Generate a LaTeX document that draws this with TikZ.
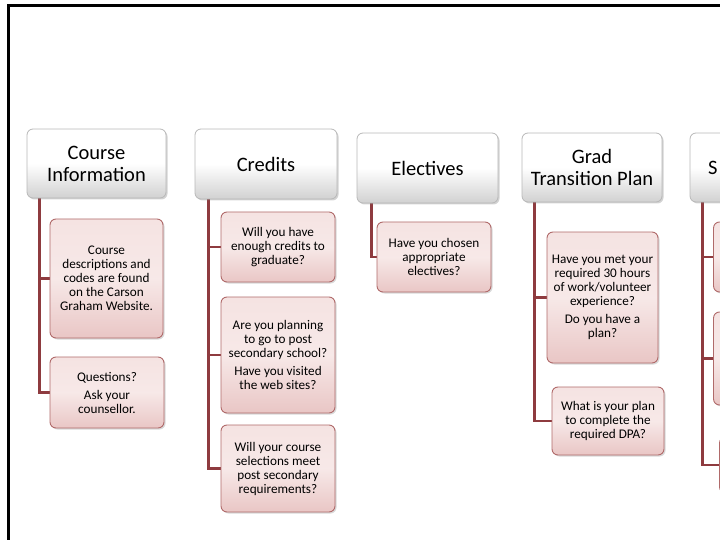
\documentclass[tikz,border=0pt]{standalone}
\usepackage{fontspec}
\setmainfont{Carlito}
\usetikzlibrary{shadows,calc,backgrounds}
\definecolor{connc}{HTML}{8E3B3F}
\definecolor{kidtop}{HTML}{F5E3E2}
\definecolor{kidbot}{HTML}{E9C6C5}
\definecolor{kiddraw}{HTML}{B06A6A}
\begin{document}
\begin{tikzpicture}[x=1pt,y=-1pt,
  hdr/.style={rounded corners=6pt, draw=black!28, line width=0.8pt,
    top color=white, bottom color=black!18, middle color=white,
    drop shadow={shadow xshift=1.5pt, shadow yshift=-1.5pt, opacity=0.35},
    align=center, inner sep=0pt, font=\fontsize{20.5}{22}\selectfont},
  kid/.style={rounded corners=6pt, draw=kiddraw, line width=0.9pt,
    top color=kidtop, bottom color=kidbot, middle color=kidtop!80!white,
    drop shadow={shadow xshift=1.5pt, shadow yshift=-1.5pt, opacity=0.3},
    align=center, inner sep=0pt, font=\fontsize{13.2}{14}\selectfont},
  cn/.style={draw=connc, line width=2.8pt}]
\useasboundingbox (0,0) rectangle (720,540);
\clip (0,0) rectangle (720,540);
\draw[line width=2.5pt, line join=miter] (8.5,540) -- (8.5,5.5) -- (720,5.5);

% headers
\node[hdr, minimum width=139pt, minimum height=69pt] (h1) at (96.5,163.5) {Course\\Information};
\node[hdr, minimum width=142pt, minimum height=70pt] (h2) at (266,164) {Credits};
\node[hdr, minimum width=141pt, minimum height=70pt] (h3) at (427.5,168) {Electives};
\node[hdr, minimum width=140pt, minimum height=69pt] (h4) at (592,167.5) {Grad\\Transition Plan};
\node[hdr, minimum width=140pt, minimum height=69pt, text width=140pt, align=left] (h5) at (760,167.5) {\hspace*{18pt}S};

% children
\node[kid, minimum width=113pt, minimum height=119pt] (c11) at (106.5,278.5)
  {Course\\descriptions and\\codes are found\\on the Carson\\Graham Website.};
\node[kid, minimum width=114pt, minimum height=71pt] (c12) at (107,392.5)
  {Questions?\\[4pt]Ask your\\counsellor.};
\node[kid, minimum width=114pt, minimum height=70pt] (c21) at (278,247)
  {Will you have\\enough credits to\\graduate?};
\node[kid, minimum width=114pt, minimum height=116pt] (c22) at (278,355)
  {Are you planning\\to go to post\\secondary school?\\[4pt]Have you visited\\the web sites?};
\node[kid, minimum width=114pt, minimum height=87pt] (c23) at (278,468.5)
  {Will your course\\selections meet\\post secondary\\requirements?};
\node[kid, minimum width=114pt, minimum height=70pt] (c31) at (434,257)
  {Have you chosen\\appropriate\\electives?};
\node[kid, minimum width=111pt, minimum height=131pt] (c41) at (602.5,297.5)
  {Have you met your\\required 30 hours\\of work/volunteer\\experience?\\[4pt]Do you have a\\plan?};
\node[kid, minimum width=112pt, minimum height=68pt] (c42) at (608,421)
  {What is your plan\\to complete the\\required DPA?};
\node[kid, minimum width=113pt, minimum height=70pt] (c51) at (770,257) {};
\node[kid, minimum width=113pt, minimum height=93pt] (c52) at (770,358.5) {};
\node[kid, minimum width=113pt, minimum height=56pt] (c53) at (776,465) {};

% connectors
\begin{scope}[on background layer]
\draw[cn] ($(h1.south west)+(13,0)$) |- (c11.west);
\draw[cn] ($(h1.south west)+(13,0)$) |- (c12.west);
\draw[cn] ($(h2.south west)+(14,0)$) |- (c21.west);
\draw[cn] ($(h2.south west)+(14,0)$) |- (c22.west);
\draw[cn] ($(h2.south west)+(14,0)$) |- (c23.west);
\draw[cn] ($(h3.south west)+(15,0)$) |- (c31.west);
\draw[cn] ($(h4.south west)+(13,0)$) |- (c41.west);
\draw[cn] ($(h4.south west)+(13,0)$) |- (c42.west);
\draw[cn] ($(h5.south west)+(13,0)$) |- (c51.west);
\draw[cn] ($(h5.south west)+(13,0)$) |- (c52.west);
\draw[cn] ($(h5.south west)+(13,0)$) |- (c53.west);
\end{scope}
\end{tikzpicture}
\end{document}
